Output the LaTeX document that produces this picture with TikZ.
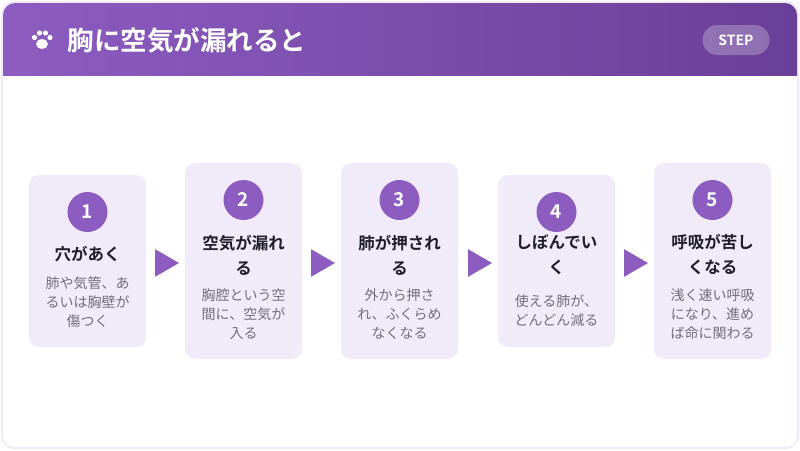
\documentclass[tikz,border=0pt]{standalone}
\usepackage{fontspec}
\setmainfont{Noto Sans CJK JP}
\newfontfamily\bfjp{Noto Sans CJK JP Bold}
\usetikzlibrary{shapes.geometric}
\definecolor{pur}{HTML}{8C5CC0}
\definecolor{purd}{HTML}{6A3F98}
\definecolor{cardbg}{HTML}{F1EAF8}
\definecolor{txt}{HTML}{1F1F2A}
\definecolor{gry}{HTML}{707078}
\begin{document}
\begin{tikzpicture}[x=1pt,y=-1pt,
 card/.style={fill=cardbg,rounded corners=10pt},
 num/.style={circle,fill=pur,minimum size=40pt,inner sep=0pt,text=white,font=\bfjp\fontsize{19}{19}\selectfont},
 ttl/.style={align=center,text=txt,font=\bfjp\fontsize{16.5}{25}\selectfont},
 dsc/.style={align=center,text=gry,font=\fontsize{14}{19}\selectfont},
 arr/.style={regular polygon,regular polygon sides=3,shape border rotate=-90,fill=pur,minimum size=32pt,inner sep=0pt}]
\useasboundingbox (0,0) rectangle (800,450);
\fill[white] (0,0) rectangle (800,450);
\draw[rounded corners=12pt,draw=cardbg,line width=2pt,fill=white] (2,2) rectangle (798,448);
\begin{scope}
\clip[rounded corners=12pt] (3,3) rectangle (797,447);
\shade[left color=pur,right color=purd] (3,3) rectangle (797,75);
\end{scope}
% paw
\node (paw) at (42,40) {};
\fill[white] (42,44) ellipse (6pt and 4.8pt);
\fill[white] (34.5,37.5) circle (2.6pt) (39.5,33) circle (2.6pt) (45.5,33) circle (2.6pt) (50,37.5) circle (2.6pt);
\node[anchor=west,text=white,font=\bfjp\fontsize{26.5}{26}\selectfont] (title) at (64,40) {胸に空気が漏れると};
\node[fill=white,fill opacity=0.25,text opacity=1,text=white,rounded corners=15pt,minimum width=67pt,minimum height=30pt,font=\bfjp\fontsize{14}{14}\selectfont] (step) at (736,40) {STEP};
% cards
\fill[card] (29,175) rectangle (146,347);
\fill[card] (185,163) rectangle (302,359);
\fill[card] (341,163) rectangle (458,359);
\fill[card] (498,175) rectangle (615,347);
\fill[card] (654,163) rectangle (771,359);
\node[num] (n1) at (87.5,212) {1};
\node[ttl] (t1) at (87.5,254) {穴があく};
\node[dsc] (d1) at (87.5,302) {肺や気管、あ\\るいは胸壁が\\傷つく};
\node[num] (n2) at (243.5,200) {2};
\node[ttl] (t2) at (243.5,255) {空気が漏れ\\る};
\node[dsc] (d2) at (243.5,314) {胸腔という空\\間に、空気が\\入る};
\node[num] (n3) at (399.5,200) {3};
\node[ttl] (t3) at (399.5,255) {肺が押され\\る};
\node[dsc] (d3) at (399.5,314) {外から押さ\\れ、ふくらめ\\なくなる};
\node[num] (n4) at (556.5,212) {4};
\node[ttl] (t4) at (556.5,255) {しぼんでい\\く};
\node[dsc] (d4) at (556.5,311) {使える肺が、\\どんどん減る};
\node[num] (n5) at (712.5,200) {5};
\node[ttl] (t5) at (712.5,255) {呼吸が苦し\\くなる};
\node[dsc] (d5) at (712.5,314) {浅く速い呼吸\\になり、進め\\ば命に関わる};
\node[arr] (a1) at (163,263) {};
\node[arr] (a2) at (319,263) {};
\node[arr] (a3) at (476,263) {};
\node[arr] (a4) at (632,263) {};
\end{tikzpicture}
\end{document}
